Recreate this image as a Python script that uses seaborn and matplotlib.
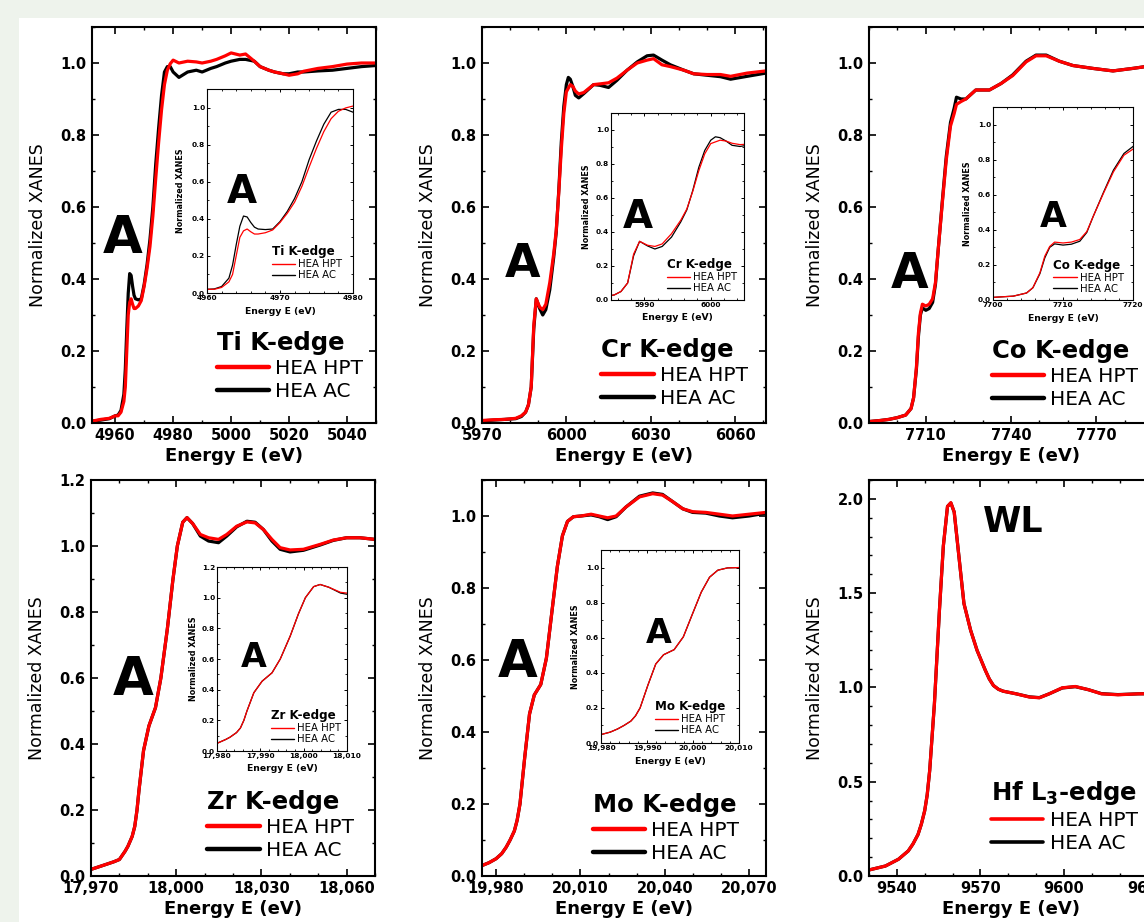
import matplotlib
matplotlib.use('Agg')
import matplotlib.pyplot as plt
from matplotlib.ticker import MultipleLocator, FuncFormatter, FormatStrFormatter
from matplotlib.patches import Rectangle
import seaborn as sns

sns.set_style('ticks', rc={'axes.edgecolor': 'black', 'xtick.color': 'black',
                           'ytick.color': 'black', 'text.color': 'black',
                           'axes.labelcolor': 'black'})
plt.rcParams['font.family'] = ['DejaVu Sans']
plt.rcParams['font.weight'] = 'bold'
plt.rcParams['mathtext.fontset'] = 'dejavusans'

# ---- data ----
ti_energy = [4952, 4955, 4958, 4960, 4961, 4962, 4963, 4963.5, 4964, 4964.5, 4965, 4965.5, 4966,
             4966.5, 4967, 4968, 4969, 4970, 4971, 4972, 4973, 4974, 4975, 4976, 4977, 4978, 4979,
             4980, 4982, 4985, 4988, 4990, 4993, 4995, 4998, 5000, 5003, 5005, 5008, 5010, 5013,
             5015, 5018, 5020, 5023, 5025, 5030, 5035, 5040, 5045, 5050]
ti_hpt = [0.005, 0.01, 0.013, 0.02, 0.02, 0.03, 0.06, 0.10, 0.2, 0.30, 0.335, 0.345, 0.33, 0.318,
          0.318, 0.325, 0.34, 0.38, 0.43, 0.49, 0.575, 0.68, 0.78, 0.87, 0.94, 0.98, 0.998, 1.008,
          1.0, 1.005, 1.003, 1.0, 1.005, 1.01, 1.02, 1.028, 1.022, 1.025, 1.005, 0.99, 0.98, 0.975,
          0.97, 0.966, 0.97, 0.977, 0.985, 0.99, 0.997, 1.0, 1.0]
ti_ac = [0.005, 0.008, 0.012, 0.02, 0.022, 0.035, 0.08, 0.15, 0.26, 0.36, 0.415, 0.41, 0.38, 0.355,
         0.345, 0.342, 0.345, 0.385, 0.44, 0.51, 0.6, 0.72, 0.82, 0.91, 0.975, 0.99, 0.99, 0.975,
         0.96, 0.975, 0.98, 0.975, 0.985, 0.99, 1.0, 1.005, 1.01, 1.01, 1.005, 0.99, 0.98, 0.975,
         0.97, 0.97, 0.975, 0.975, 0.978, 0.98, 0.985, 0.99, 0.993]

cr_energy = [5970, 5974, 5978, 5982, 5984, 5985.5, 5986.5, 5987.5, 5988.4, 5989.3, 5990.5, 5991.6,
             5992.7, 5994.1, 5995.5, 5996.4, 5997.3, 5998.2, 5999.1, 6000, 6000.7, 6001.4, 6002.3,
             6003.2, 6004.4, 6006.2, 6009.7, 6012, 6015, 6018, 6021.6, 6025.2, 6028.7, 6031, 6034,
             6037, 6041.8, 6045.3, 6050, 6054.8, 6058.4, 6064.3, 6071]
cr_hpt = [0.007, 0.009, 0.01, 0.013, 0.02, 0.03, 0.05, 0.1, 0.27, 0.345, 0.322, 0.315, 0.33, 0.39,
          0.47, 0.535, 0.64, 0.76, 0.86, 0.92, 0.93, 0.94, 0.935, 0.922, 0.914, 0.918, 0.94, 0.942,
          0.945, 0.958, 0.98, 1.0, 1.008, 1.012, 0.995, 0.99, 0.98, 0.97, 0.968, 0.968, 0.963,
          0.972, 0.978]
cr_ac = [0.006, 0.008, 0.01, 0.012, 0.018, 0.03, 0.05, 0.1, 0.26, 0.345, 0.318, 0.300, 0.315, 0.37,
         0.46, 0.53, 0.645, 0.78, 0.88, 0.94, 0.96, 0.955, 0.935, 0.91, 0.903, 0.915, 0.94, 0.938,
         0.932, 0.952, 0.98, 1.003, 1.02, 1.022, 1.008, 0.995, 0.98, 0.97, 0.966, 0.962, 0.955,
         0.963, 0.972]

co_energy = [7690, 7694, 7697, 7700, 7702.9, 7704.8, 7705.7, 7706.7, 7707.4, 7708.1, 7708.8, 7710,
             7711.2, 7712.4, 7713.4, 7714.3, 7715.8, 7717.2, 7718.7, 7720, 7720.8, 7722.4, 7724.1,
             7727.6, 7732.4, 7736.5, 7740.6, 7745.3, 7748.8, 7752.4, 7757, 7761.8, 7768.8, 7775.9,
             7782.9, 7790]
co_hpt = [0.004, 0.007, 0.01, 0.015, 0.022, 0.04, 0.07, 0.155, 0.25, 0.305, 0.33, 0.325, 0.33,
          0.345, 0.39, 0.475, 0.61, 0.73, 0.825, 0.86, 0.885, 0.893, 0.9, 0.925, 0.925, 0.943,
          0.965, 1.003, 1.02, 1.02, 1.005, 0.993, 0.985, 0.978, 0.985, 0.993]
co_ac = [0.004, 0.007, 0.01, 0.015, 0.022, 0.04, 0.07, 0.15, 0.24, 0.3, 0.32, 0.313, 0.318, 0.335,
         0.385, 0.475, 0.615, 0.74, 0.835, 0.875, 0.905, 0.9, 0.9, 0.925, 0.925, 0.943, 0.967,
         1.005, 1.022, 1.022, 1.005, 0.993, 0.985, 0.978, 0.985, 0.993]

zr_energy = [17970, 17975.6, 17978, 17980, 17982, 17983, 17984.5, 17985.4, 17986.2, 17986.9,
             17988.5, 17990.4, 17992.7, 17994.6, 17996.9, 17998.8, 18000.4, 18002.3, 18003.8,
             18005.8, 18008.5, 18011.4, 18014.9, 18017.8, 18021.3, 18024.9, 18027.8, 18030.7,
             18033.7, 18036.6, 18040.1, 18044.8, 18050.7, 18055.3, 18060, 18064.7, 18070]
zr_hpt = [0.02, 0.036, 0.043, 0.05, 0.075, 0.09, 0.12, 0.15, 0.2, 0.26, 0.38, 0.455, 0.51, 0.6,
          0.75, 0.895, 1.0, 1.072, 1.086, 1.068, 1.035, 1.025, 1.02, 1.035, 1.06, 1.073, 1.07,
          1.05, 1.02, 0.995, 0.988, 0.99, 1.005, 1.018, 1.025, 1.025, 1.02]
zr_ac = [0.02, 0.036, 0.043, 0.05, 0.075, 0.09, 0.12, 0.15, 0.2, 0.26, 0.38, 0.455, 0.51, 0.6,
         0.75, 0.895, 1.0, 1.072, 1.086, 1.068, 1.03, 1.015, 1.01, 1.03, 1.058, 1.075, 1.072,
         1.05, 1.015, 0.99, 0.982, 0.987, 1.003, 1.017, 1.025, 1.025, 1.02]

mo_energy = [19974.7, 19977.5, 19980, 19982, 19983.6, 19985, 19986.5, 19987.5, 19988.5, 19990.2,
             19991.9, 19993.6, 19995.9, 19997.9, 19999.8, 20001.8, 20003.6, 20005.4, 20007.5,
             20010.2, 20013.8, 20016.7, 20019.7, 20022.7, 20026.2, 20031, 20035.7, 20039.2,
             20042.8, 20046.4, 20049.9, 20054.6, 20059.4, 20064.1, 20070, 20076]
mo_hpt = [0.028, 0.037, 0.048, 0.062, 0.08, 0.1, 0.125, 0.155, 0.2, 0.33, 0.45, 0.503, 0.532,
          0.605, 0.73, 0.86, 0.945, 0.985, 0.998, 1.0, 1.005, 1.0, 0.995, 1.0, 1.025, 1.053,
          1.062, 1.058, 1.04, 1.02, 1.012, 1.01, 1.005, 1.0, 1.005, 1.01]
mo_ac = [0.028, 0.037, 0.048, 0.062, 0.08, 0.1, 0.125, 0.155, 0.2, 0.33, 0.45, 0.503, 0.532,
         0.605, 0.73, 0.86, 0.945, 0.985, 0.998, 1.0, 1.003, 0.998, 0.99, 0.998, 1.025, 1.055,
         1.064, 1.06, 1.04, 1.02, 1.01, 1.008, 1.0, 0.995, 1.0, 1.008]

hf_energy = [9530, 9535.9, 9540.6, 9544.1, 9545.8, 9547.6, 9548.8, 9550, 9550.9, 9551.8, 9553.5,
             9555.3, 9556.7, 9558.2, 9559.4, 9560.6, 9562.4, 9564.1, 9566.5, 9568.8, 9571.8,
             9573.2, 9574.7, 9576.5, 9578.2, 9582.9, 9587.6, 9591.2, 9594.7, 9599.4, 9604.1,
             9608.8, 9613.5, 9619.4, 9626.7, 9632]
hf_hpt = [0.032, 0.053, 0.089, 0.133, 0.17, 0.22, 0.275, 0.346, 0.43, 0.56, 0.915, 1.41, 1.75,
          1.96, 1.98, 1.93, 1.68, 1.445, 1.303, 1.197, 1.09, 1.045, 1.01, 0.99, 0.98, 0.966,
          0.949, 0.945, 0.966, 0.998, 1.005, 0.988, 0.966, 0.961, 0.966, 0.967]
hf_ac = [0.032, 0.053, 0.089, 0.133, 0.17, 0.22, 0.275, 0.346, 0.43, 0.56, 0.915, 1.41, 1.75,
         1.96, 1.978, 1.93, 1.68, 1.445, 1.303, 1.197, 1.09, 1.045, 1.01, 0.99, 0.98, 0.966,
         0.95, 0.946, 0.966, 0.997, 1.004, 0.988, 0.967, 0.962, 0.966, 0.967]

labels = ['HEA HPT', 'HEA AC']

W, H = 1144, 922
fig = plt.figure(figsize=(W / 100, H / 100), dpi=100, facecolor='#eef3ec')
fig.patches.append(Rectangle((19 / W, 0), 1, 1 - 18 / H, transform=fig.transFigure,
                             facecolor='white', edgecolor='none', zorder=-5))


def box(l, r, t, b):
    return [l / W, 1 - b / H, (r - l) / W, (b - t) / H]


def comma_fmt(v, pos):
    return f'{v:,.0f}'


def plain_fmt(v, pos):
    return f'{v:.0f}'


def setup(ax, xlim, ylim, xstep, xminor, ystep, yminor, comma, inset):
    ax.set_xlim(xlim)
    ax.set_ylim(ylim)
    ax.xaxis.set_major_locator(MultipleLocator(xstep))
    ax.xaxis.set_minor_locator(MultipleLocator(xminor))
    ax.yaxis.set_major_locator(MultipleLocator(ystep))
    ax.yaxis.set_minor_locator(MultipleLocator(yminor))
    ax.xaxis.set_major_formatter(FuncFormatter(comma_fmt if comma else plain_fmt))
    ax.yaxis.set_major_formatter(FormatStrFormatter('%.1f'))
    ax.tick_params(which='both', direction='in', top=True, right=True)
    if inset:
        for s in ax.spines.values():
            s.set_linewidth(0.8)
        ax.tick_params(which='major', length=2.5, width=0.7, labelsize=5.3, pad=1.5)
        ax.tick_params(which='minor', length=1.3, width=0.6)
        ax.set_xlabel('Energy E (eV)', fontsize=6.7, fontweight='bold')
        ax.set_ylabel('Normalized XANES', fontsize=5.8, fontweight='bold')
        ax.xaxis.set_label_coords(0.5, -0.07)
        ax.yaxis.set_label_coords(-0.15, 0.5)
    else:
        for s in ax.spines.values():
            s.set_linewidth(1.5)
        ax.tick_params(which='major', length=5, width=1.2, labelsize=10.5)
        ax.tick_params(axis='x', which='major', pad=3.5)
        ax.tick_params(axis='y', which='major', pad=4)
        ax.tick_params(which='minor', length=2.5, width=1)
        ax.set_xlabel('Energy E (eV)', fontsize=13, fontweight='bold')
        ax.set_ylabel('Normalized XANES', fontsize=12.5, fontweight='normal')
        ax.xaxis.set_label_coords(0.5, -0.06)
        ax.yaxis.set_label_coords(-0.158, 0.5)


def curves(ax, energy, hpt, ac, lw):
    sns.lineplot(x=energy, y=ac, ax=ax, color='black', linewidth=lw, sort=False)
    ac_line = ax.lines[-1]
    sns.lineplot(x=energy, y=hpt, ax=ax, color='#ff0000', linewidth=lw, sort=False)
    hpt_line = ax.lines[-1]
    return [hpt_line, ac_line]


def legend(ax, handles, title, x, y, fs, tfs, hl, lw, spacing):
    leg = ax.legend(handles=handles, labels=labels, loc='upper left', bbox_to_anchor=(x, y),
                    frameon=False, title=title,
                    title_fontproperties={'size': tfs, 'weight': 'bold'},
                    prop={'size': fs, 'weight': 'normal'}, handlelength=hl,
                    handletextpad=0.3, labelspacing=spacing, borderpad=0, borderaxespad=0,
                    alignment='left')
    for ln in leg.get_lines():
        ln.set_linewidth(lw)


panels = [
    # name, data, main box, xlim, ylim, ystep, comma, A pos, A size, legend pos, inset spec
    ('Ti K-edge', ti_energy, ti_hpt, ti_ac, (92, 376, 27, 423), (4952, 5050), (0, 1.1), 20, 0.2,
     False, (0.109, 0.429), 37, (0.44, 0.232),
     ((207, 353, 89, 293), (4960, 4980), (0, 1.1), (0.24, 0.441), 28, (0.445, 0.235))),
    ('Cr K-edge', cr_energy, cr_hpt, cr_ac, (482, 766, 27, 423), (5970, 6071), (0, 1.1), 30, 0.2,
     False, (0.141, 0.369), 33, (0.42, 0.214),
     ((611, 744, 113, 300), (5985, 6005), (0, 1.1), (0.2, 0.385), 28, (0.42, 0.225))),
    ('Co K-edge', co_energy, co_hpt, co_ac, (869, 1153, 27, 423), (7690, 7790), (0, 1.1), 30, 0.2,
     False, (0.144, 0.341), 35, (0.433, 0.212),
     ((993, 1133, 107, 300), (7700, 7720), (0, 1.1), (0.43, 0.378), 25, (0.43, 0.215))),
    ('Zr K-edge', zr_energy, zr_hpt, zr_ac, (91, 375, 480, 876), (17970, 18070), (0, 1.2), 30, 0.2,
     True, (0.148, 0.457), 38, (0.41, 0.217),
     ((217, 347, 567, 751), (17980, 18010), (0, 1.2), (0.285, 0.457), 24, (0.415, 0.229))),
    ('Mo K-edge', mo_energy, mo_hpt, mo_ac, (482, 766, 480, 876), (19975, 20076), (0, 1.1), 30, 0.2,
     True, (0.127, 0.503), 37, (0.39, 0.209),
     ((601, 739, 550, 743), (19980, 20010), (0, 1.1), (0.42, 0.518), 24, (0.39, 0.223))),
]

for (title, energy, hpt, ac, mbox, xlim, ylim, xstep, ystep, comma, apos, asize, lpos,
     inset) in panels:
    ax = fig.add_axes(box(*mbox))
    handles = curves(ax, energy, hpt, ac, 2.3)
    setup(ax, xlim, ylim, xstep, 10, ystep, 0.1, comma, False)
    ax.text(apos[0], apos[1], 'A', transform=ax.transAxes, ha='center', va='baseline',
            fontsize=asize, fontweight='bold')
    legend(ax, handles, title, lpos[0], lpos[1], 14.5, 17.5, 2.6, 3.2, 0.2)

    ibox, ixlim, iylim, iapos, iasize, ilpos = inset
    axi = fig.add_axes(box(*ibox))
    ih = curves(axi, energy, hpt, ac, 0.9)
    setup(axi, ixlim, iylim, 10, 2, 0.2, 0.1, comma, True)
    axi.text(iapos[0], iapos[1], 'A', transform=axi.transAxes, ha='center', va='baseline',
             fontsize=iasize, fontweight='bold')
    legend(axi, ih, title, ilpos[0], ilpos[1], 7.3, 8.6, 2.3, 1.0, 0.12)

# Hf L3-edge panel (no inset)
ax = fig.add_axes(box(869, 1153, 480, 876))
handles = curves(ax, hf_energy, hf_hpt, hf_ac, 2.3)
setup(ax, (9530, 9632), (0, 2.1), 30, 10, 0.5, 0.1, False, False)
ax.text(0.507, 0.869, 'WL', transform=ax.transAxes, ha='center', va='baseline',
        fontsize=25, fontweight='bold')
legend(ax, handles, r'Hf L$_{\mathbf{3}}$-edge', 0.43, 0.244, 14.5, 17.5, 2.6, 2.6, 0.2)

fig.savefig('out.png', dpi=100, facecolor=fig.get_facecolor())
